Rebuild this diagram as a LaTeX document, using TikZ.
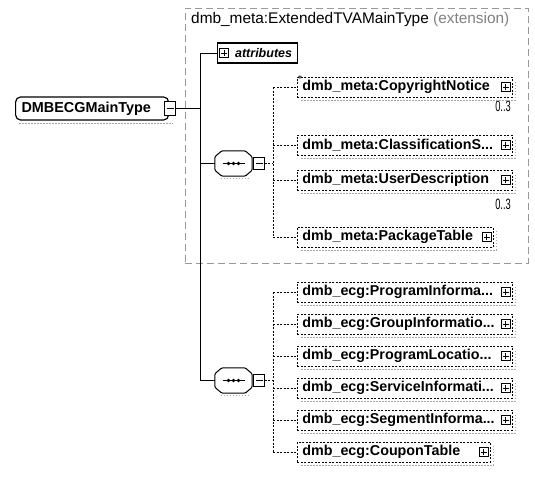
\documentclass[tikz,border=0pt]{standalone}
\usepackage{fontspec}
\setmainfont{Liberation Sans}
\usepackage{graphicx}
\begin{document}
\begin{tikzpicture}[x=1pt,y=-1pt,
  lbl/.style={font=\bfseries\fontsize{14.3}{16}\selectfont},
  optbox/.style={draw, dash pattern=on 2pt off 1.5pt, line width=0.8pt,
    minimum height=20pt, inner xsep=5pt, inner ysep=0pt, anchor=west, align=left, lbl},
  plusbtn/.style={draw, fill=white, line width=0.7pt, minimum size=9pt, inner sep=0pt,
    path picture={
      \draw[line width=0.7pt] ([xshift=1.8pt]path picture bounding box.west) -- ([xshift=-1.8pt]path picture bounding box.east);
      \draw[line width=0.7pt] ([yshift=-1.8pt]path picture bounding box.north) -- ([yshift=1.8pt]path picture bounding box.south);}},
  minbtn/.style={draw, fill=white, line width=0.8pt, minimum width=11pt, minimum height=12pt, inner sep=0pt,
    path picture={
      \draw[line width=0.8pt] ([xshift=2pt]path picture bounding box.west) -- ([xshift=-2pt]path picture bounding box.east);}},
  seqspot/.style={minimum width=37pt, minimum height=25pt, inner sep=0pt},
  octagon/.style={draw, fill=white, line width=1pt, rounded corners=1.2pt},
  solidline/.style={line width=1pt},
  optline/.style={dash pattern=on 2pt off 1.5pt, line width=0.8pt},
  shadowline/.style={gray!70, dash pattern=on 1.5pt off 1.5pt, line width=0.7pt},
  extframe/.style={draw, gray!80, dash pattern=on 7pt off 4pt, line width=0.6pt, inner sep=0pt},
  mult/.style={font=\fontsize{15}{16}\selectfont, inner sep=0pt, anchor=east}
]
\useasboundingbox (0,0) rectangle (535,482);

% extension frame with its title
\node[extframe, minimum width=343pt, minimum height=255pt, anchor=north west] (ext) at (185,8) {};
\node[anchor=west, inner sep=0pt, font=\fontsize{15.4}{17}\selectfont] (exttitle) at (191,20)
  {dmb\_meta:ExtendedTVAMainType \textcolor{gray}{(extension)}};

% root complex type
\node[draw, line width=1.2pt, rounded corners=5pt, minimum width=153pt, minimum height=23pt,
  text width=141pt, inner xsep=6pt, inner ysep=0pt, align=left, anchor=west,
  font=\bfseries\fontsize{14.4}{16}\selectfont]
  (root) at (15,108.5) {DMBECGMainType};
\draw[shadowline] ([xshift=4pt,yshift=-2.5pt]root.south west) -- ([xshift=3pt,yshift=-2.5pt]root.south east);
\node[minbtn, minimum height=14pt] (rootbtn) at (170,108.5) {};

% attributes
\node[draw, line width=1.2pt, minimum width=80pt, minimum height=20pt, inner ysep=0pt, anchor=west,
  font=\bfseries\itshape\fontsize{12.5}{14}\selectfont] (attr) at (217,53) {\hspace{12pt}attributes};
\node[plusbtn] (attrbtn) at (224,53) {};

% sequence compositors
\node[seqspot] (seqa) at (233.5,163.5) {};
\node[seqspot] (seqb) at (233.5,380.5) {};
\foreach \n in {seqa,seqb} {
  \draw[shadowline] ([xshift=6pt,yshift=-2.5pt]\n.south west) -- ([xshift=-4pt,yshift=-2.5pt]\n.south east);
  \draw[octagon] ([xshift=7pt]\n.north west) -- ([xshift=-7pt]\n.north east) -- ([yshift=-6pt]\n.north east)
    -- ([yshift=6pt]\n.south east) -- ([xshift=-7pt]\n.south east) -- ([xshift=7pt]\n.south west)
    -- ([yshift=6pt]\n.south west) -- ([yshift=-6pt]\n.north west) -- cycle;
  \draw[line width=1.2pt] ([xshift=-11pt]\n.center) -- ([xshift=11pt]\n.center);
  \foreach \d in {-5,0,5} \fill ([xshift=\d pt]\n.center) circle (1.8pt);
}
\node[minbtn] (seqabtn) at (259,163.5) {};
\node[minbtn] (seqbbtn) at (259,380.5) {};

% trunk and branch rails
\coordinate (trunk) at (200,0);
\coordinate (rail) at (273,0);

% dmb_meta children
\node[optbox, text width=205pt] (cn) at (297,87) {dmb\_meta:CopyrightNotice};
\node[optbox, text width=205pt] (cs) at (297,145) {dmb\_meta:ClassificationS...};
\node[optbox, text width=205pt] (ud) at (297,180) {dmb\_meta:UserDescription};
\node[optbox, text width=186pt] (pt) at (297,237) {dmb\_meta:PackageTable};
\node[inner sep=0pt, font=\fontsize{10}{11}\selectfont] (star) at (300,79.5) {*};
\node[mult] (cnmult) at (511,106) {\scalebox{0.62}[1]{0..3}};
\node[mult] (udmult) at (511,204) {\scalebox{0.62}[1]{0..3}};

% dmb_ecg children
\node[optbox, text width=205pt] (pi) at (297,292) {dmb\_ecg:ProgramInforma...};
\node[optbox, text width=205pt] (gi) at (297,324) {dmb\_ecg:GroupInformatio...};
\node[optbox, text width=205pt] (pl) at (297,356) {dmb\_ecg:ProgramLocatio...};
\node[optbox, text width=205pt] (si) at (297,388) {dmb\_ecg:ServiceInformati...};
\node[optbox, text width=205pt] (sg) at (297,420) {dmb\_ecg:SegmentInforma...};
\node[optbox, text width=183pt] (ct) at (297,452) {dmb\_ecg:CouponTable};

% expand buttons and shadows of the child elements
\foreach \n in {cn,cs,ud,pt,pi,gi,pl,si,sg,ct} {
  \node[plusbtn] (\n btn) at ([xshift=-7pt]\n.east) {};
  \draw[shadowline] ([xshift=4pt,yshift=-2.5pt]\n.south west) -- ([xshift=2.5pt,yshift=-2.5pt]\n.south east)
    -- ([xshift=2.5pt,yshift=-4pt]\n.north east);
}

% solid connectors from the root
\draw[solidline] (rootbtn.east) -- (rootbtn.east -| trunk);
\draw[solidline] (attr.west) -- (attr.west -| trunk) -- (seqb.west -| trunk) -- (seqb.west);
\draw[solidline] (seqa.west -| trunk) -- (seqa.west);

% optional connectors from the sequences
\draw[optline] (seqabtn.east) -- (seqabtn.east -| rail);
\draw[optline] (cn.west -| rail) -- (pt.west -| rail);
\foreach \n in {cn,cs,ud,pt} \draw[optline] (\n.west -| rail) -- (\n.west);
\draw[optline] (seqbbtn.east) -- (seqbbtn.east -| rail);
\draw[optline] (pi.west -| rail) -- (ct.west -| rail);
\foreach \n in {pi,gi,pl,si,sg,ct} \draw[optline] (\n.west -| rail) -- (\n.west);
\end{tikzpicture}
\end{document}
